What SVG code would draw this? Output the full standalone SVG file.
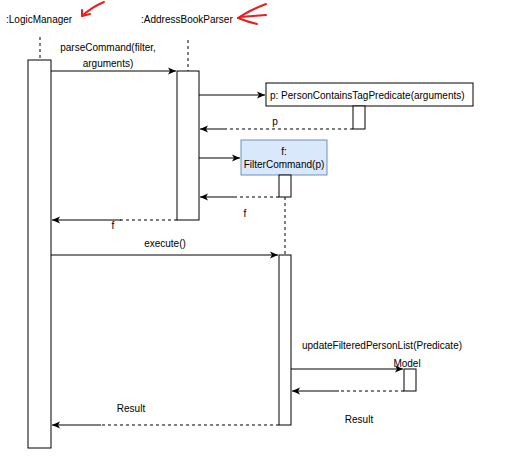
<svg xmlns="http://www.w3.org/2000/svg" width="505" height="459" viewBox="0 0 505 459">
<style>
text{font-family:"Liberation Sans",Arial,sans-serif;font-size:10px;fill:#000}
.m{text-anchor:middle}
.act{fill:#fff;stroke:#000;stroke-width:1}
.life{stroke:#000;stroke-width:1;stroke-dasharray:3 3;fill:none}
.call{stroke:#000;stroke-width:1;fill:none;marker-end:url(#arr)}
.ret{stroke:#000;stroke-width:1;fill:none;stroke-dasharray:3 3}
.retHead{stroke:#000;stroke-width:1;fill:none;marker-end:url(#arr)}
.red{stroke:#ee1c1c;stroke-width:2;fill:none;stroke-linecap:round;stroke-linejoin:round}
</style>
<defs>
<marker id="arr" markerWidth="10" markerHeight="10" refX="9" refY="5" orient="auto" markerUnits="userSpaceOnUse">
<path d="M1,1.5 L9,5 L1,8.5 L3,5 z" fill="#000"/>
</marker>
</defs>
<rect width="505" height="459" fill="#fff"/>

<g id="logicManager">
<text x="6" y="23">:LogicManager</text>
<line class="life" x1="40" y1="37" x2="40" y2="60"/>
<rect class="act" x="28" y="60" width="23" height="388"/>
</g>

<g id="addressBookParser">
<text x="141" y="23">:AddressBookParser</text>
<line class="life" x1="188" y1="40" x2="188" y2="71"/>
<rect class="act" x="177" y="71" width="22" height="149"/>
</g>

<g id="predicate">
<rect x="266" y="83" width="207" height="23" fill="#fff" stroke="#000"/>
<text x="270" y="98.5">p: PersonContainsTagPredicate(arguments)</text>
<rect class="act" x="353" y="106" width="12" height="23"/>
</g>

<g id="filterCommand">
<rect x="241" y="140" width="86" height="35" fill="#dae8fc" stroke="#6c8ebf"/>
<text class="m" x="284" y="155">f:</text>
<text class="m" x="284" y="168">FilterCommand(p)</text>
<rect class="act" x="279" y="175" width="12" height="22"/>
<line class="life" x1="285" y1="197" x2="285" y2="255"/>
<rect class="act" x="279" y="255" width="12" height="170"/>
</g>

<g id="model">
<text class="m" x="407" y="367">Model</text>
<rect class="act" x="404" y="369" width="12" height="22"/>
</g>

<g id="annotations">
<path class="red" d="M104,2 Q92,7 82,16"/>
<path class="red" d="M82,10 L82,16 L90,14"/>
<path class="red" d="M266,4 Q250,10 238,18"/>
<path class="red" d="M238,18 Q248,22 257,24"/>
<path class="red" d="M240,17 L266,15"/>
</g>

<g id="connectors">
<line class="call" x1="51" y1="71" x2="176" y2="71"/>
<text class="m" x="108" y="51">parseCommand(filter,</text>
<text class="m" x="108" y="67">arguments)</text>

<line class="call" x1="199" y1="95" x2="265" y2="95"/>

<line class="ret" x1="353" y1="129" x2="223" y2="129"/>
<line class="retHead" x1="224" y1="129" x2="200" y2="129"/>
<text class="m" x="275" y="125">p</text>

<line class="call" x1="199" y1="158" x2="240" y2="158"/>

<line class="ret" x1="279" y1="197" x2="233" y2="197"/>
<line class="retHead" x1="234" y1="197" x2="200" y2="197"/>
<text class="m" x="245" y="217">f</text>

<line class="ret" x1="177" y1="220" x2="120" y2="220"/>
<line class="retHead" x1="121" y1="220" x2="52" y2="220"/>
<text class="m" x="113" y="229">f</text>

<line class="call" x1="51" y1="255" x2="278" y2="255"/>
<text class="m" x="165" y="247">execute()</text>

<line class="call" x1="291" y1="369" x2="403" y2="369"/>
<text class="m" x="382" y="349">updateFilteredPersonList(Predicate)</text>

<line class="ret" x1="404" y1="391" x2="338" y2="391"/>
<line class="retHead" x1="339" y1="391" x2="292" y2="391"/>
<text class="m" x="359" y="423">Result</text>

<line class="ret" x1="279" y1="425" x2="100" y2="425"/>
<line class="retHead" x1="101" y1="425" x2="52" y2="425"/>
<text class="m" x="131" y="412">Result</text>
</g>
</svg>
